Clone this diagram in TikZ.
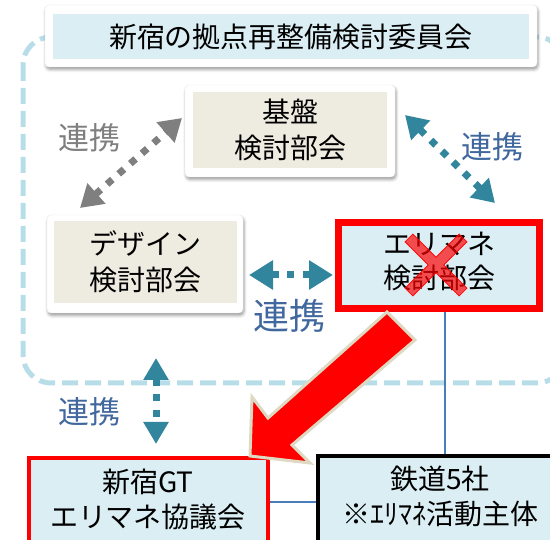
\documentclass[tikz,border=0pt]{standalone}
\usepackage{fontspec}
\setmainfont{Noto Sans CJK JP}
\usetikzlibrary{arrows.meta,shadows.blur}
\definecolor{lblue}{HTML}{DBEEF4}
\definecolor{beige}{HTML}{EEECE1}
\definecolor{framec}{HTML}{B7DEE8}
\definecolor{teal}{HTML}{31859C}
\definecolor{grayc}{HTML}{7F7F7F}
\definecolor{labblue}{HTML}{41689E}
\definecolor{outl}{HTML}{DDD9C3}
\definecolor{linkc}{HTML}{4A7EBB}
\begin{document}
\begin{tikzpicture}[x=1pt,y=-1pt,
  whitebox/.style={draw=white!92!black, line width=0.4pt, fill=white, rounded corners=4pt, inner sep=0pt,
    blur shadow={shadow xshift=1pt, shadow yshift=-2.5pt, shadow blur radius=3pt, shadow opacity=40}},
  innerbox/.style={inner sep=0pt, align=center, font=\fontsize{28}{36}\selectfont},
  boxtext/.style={inner sep=0pt, align=center, font=\fontsize{28}{35}\selectfont},
  dotarrow/.style={line width=7pt, dash pattern=on 7pt off 8.5pt,
    {Triangle[length=22pt,width=26pt]}-{Triangle[length=22pt,width=26pt]}},
  lab/.style={inner sep=0pt, font=\fontsize{31}{31}\selectfont},
  link/.style={draw=linkc, line width=1.5pt}
]
\useasboundingbox (0,0) rectangle (550,540);
\clip (0,0) rectangle (550,540);

% dashed frame
\draw[framec, line width=5pt, dash pattern=on 16pt off 7pt, rounded corners=28pt] (23,37) rectangle (565,383);

% top committee box
\node[whitebox, minimum width=492pt, minimum height=62pt] (topO) at (291,36) {};
\node[innerbox, fill=lblue, minimum width=476pt, minimum height=45pt] (top) at (291,36.5) {新宿の拠点再整備検討委員会};

% kiban
\node[whitebox, minimum width=210pt, minimum height=92pt] (kibanO) at (290,131) {};
\node[innerbox, fill=beige, minimum width=194pt, minimum height=76pt] (kiban) at (290,130) {基盤\\検討部会};

% design
\node[whitebox, minimum width=196pt, minimum height=98pt] (desO) at (145,264) {};
\node[innerbox, fill=beige, minimum width=183pt, minimum height=82pt] (des) at (145.5,262) {デザイン\\検討部会};

% eriamane
\node[draw=red, line width=7pt, fill=lblue, minimum width=201pt, minimum height=86pt, inner sep=0pt] (eriO) at (439,265.5) {};
\node[boxtext, font=\fontsize{28}{34}\selectfont] (eri) at (439,261) {エリマネ\\検討部会};

% cross
\begin{scope}[shift={(436,265)}, rotate=45]
\filldraw[fill=red, fill opacity=0.68, draw=red, draw opacity=0.9, line width=0.8pt]
  (38.3,5.5) -- (38.3,-5.5) -- (5.5,-5.5) -- (5.5,-38.3) -- (-5.5,-38.3) -- (-5.5,-5.5)
  -- (-38.3,-5.5) -- (-38.3,5.5) -- (-5.5,5.5) -- (-5.5,38.3) -- (5.5,38.3) -- (5.5,5.5) -- cycle;
\end{scope}

% bottom boxes
\node[draw=red, line width=4pt, fill=lblue, minimum width=239pt, minimum height=140pt, inner sep=0pt] (gtbox) at (148.5,528) {};
\node[boxtext] (gt) at (148,499) {新宿GT\\エリマネ協議会};
\node[draw=black, line width=4pt, fill=lblue, minimum width=244pt, minimum height=142pt, inner sep=0pt] (railbox) at (440,527) {};
\node[boxtext] (rail) at (440,496) {鉄道5社\\※ｴﾘﾏﾈ活動主体};

% thin links
\draw[link] (eriO.south -| 445,0) -- (railbox.north -| 445,0);
\draw[link] (gtbox.east |- 0,502) -- (railbox.west |- 0,502);

% dotted arrows
\coordinate (g1) at (182,118);
\coordinate (g2) at (80,208);
\draw[dotarrow, grayc] (g2) -- (g1);
\coordinate (t1) at (405,115);
\coordinate (t2) at (495,203);
\draw[dotarrow, teal] (t1) -- (t2);
\coordinate (h1) at (249,275);
\coordinate (h2) at (333,275);
\draw[dotarrow, teal, {Triangle[length=24pt,width=28pt]}-{Triangle[length=24pt,width=28pt]}] (h1) -- (h2);
\coordinate (v1) at (156,358);
\coordinate (v2) at (156,444);
\draw[dotarrow, teal, {Triangle[length=22pt,width=24pt]}-{Triangle[length=22pt,width=24pt]}] (v1) -- (v2);

% labels
\node[lab, text=grayc] (lg) at (90,138) {連携};
\node[lab, text=labblue] (lr) at (492,147) {連携};
\node[lab, text=labblue, font=\fontsize{36}{36}\selectfont] (lm) at (289,316) {連携};
\node[lab, text=labblue] (lb) at (90,412) {連携};

% big red arrow
\filldraw[fill=red, draw=outl, line width=3pt, line join=miter]
  (387,312) -- (268,418) -- (252,397) -- (250,456) -- (310,463) -- (292,445) -- (415,340) -- cycle;
\end{tikzpicture}
\end{document}
